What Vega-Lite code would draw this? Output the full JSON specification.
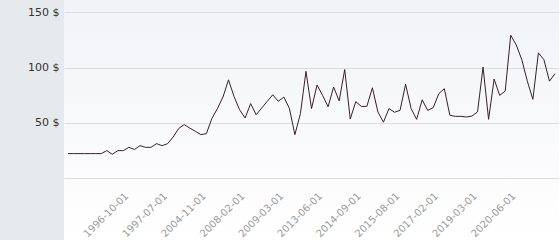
{
  "$schema": "https://vega.github.io/schema/vega-lite/v6.json",
  "width": 495,
  "height": 240,
  "padding": 0,
  "background": "#e7eaed",
  "config": {
    "view": {
      "stroke": null,
      "fill": {"gradient": "linear", "x1": 0, "y1": 0, "x2": 0, "y2": 1, "stops": [{"offset": 0, "color": "#f2f3f7"}, {"offset": 1, "color": "#ffffff"}]}
    },
    "font": "DejaVu Sans"
  },
  "data": {
    "values": [
      {"date": "1995-01-01", "price": 22.3},
      {"date": "1995-03-01", "price": 22.3},
      {"date": "1995-05-01", "price": 22.3},
      {"date": "1995-07-01", "price": 22.3},
      {"date": "1995-09-01", "price": 22.3},
      {"date": "1995-11-01", "price": 22.3},
      {"date": "1996-01-01", "price": 22.3},
      {"date": "1996-03-01", "price": 25},
      {"date": "1996-05-01", "price": 21.7},
      {"date": "1996-07-01", "price": 25},
      {"date": "1996-10-01", "price": 25},
      {"date": "1996-11-01", "price": 28},
      {"date": "1996-12-01", "price": 26},
      {"date": "1997-01-01", "price": 29.5},
      {"date": "1997-02-01", "price": 28},
      {"date": "1997-04-01", "price": 28},
      {"date": "1997-05-01", "price": 31.3},
      {"date": "1997-07-01", "price": 29.5},
      {"date": "1998-06-01", "price": 31.3},
      {"date": "1999-09-01", "price": 37.3},
      {"date": "2000-11-01", "price": 45},
      {"date": "2001-10-01", "price": 48.5},
      {"date": "2002-09-01", "price": 45.4},
      {"date": "2003-10-01", "price": 42.5},
      {"date": "2004-11-01", "price": 39.5},
      {"date": "2005-06-01", "price": 40.3},
      {"date": "2006-01-01", "price": 54},
      {"date": "2006-08-01", "price": 63},
      {"date": "2007-01-01", "price": 73.4},
      {"date": "2007-06-01", "price": 89},
      {"date": "2007-10-01", "price": 74},
      {"date": "2008-02-01", "price": 62},
      {"date": "2008-04-01", "price": 54.5},
      {"date": "2008-06-01", "price": 67.5},
      {"date": "2008-08-01", "price": 57.5},
      {"date": "2008-10-01", "price": 63.5},
      {"date": "2008-12-01", "price": 69.6},
      {"date": "2009-01-01", "price": 75.5},
      {"date": "2009-03-01", "price": 69.6},
      {"date": "2009-11-01", "price": 73.4},
      {"date": "2010-07-01", "price": 63.3},
      {"date": "2011-03-01", "price": 39.5},
      {"date": "2011-10-01", "price": 58.5},
      {"date": "2012-05-01", "price": 96.7},
      {"date": "2012-12-01", "price": 63},
      {"date": "2013-06-01", "price": 84.3},
      {"date": "2013-08-01", "price": 75},
      {"date": "2013-10-01", "price": 64.7},
      {"date": "2013-12-01", "price": 82.5},
      {"date": "2014-02-01", "price": 70},
      {"date": "2014-04-01", "price": 98.3},
      {"date": "2014-06-01", "price": 53.6},
      {"date": "2014-09-01", "price": 69.3},
      {"date": "2014-10-01", "price": 65},
      {"date": "2014-12-01", "price": 65},
      {"date": "2015-01-01", "price": 81.8},
      {"date": "2015-03-01", "price": 60},
      {"date": "2015-04-01", "price": 50.7},
      {"date": "2015-06-01", "price": 63},
      {"date": "2015-08-01", "price": 59.7},
      {"date": "2015-10-01", "price": 61.4},
      {"date": "2016-01-01", "price": 85},
      {"date": "2016-04-01", "price": 63},
      {"date": "2016-06-01", "price": 53.3},
      {"date": "2016-09-01", "price": 71},
      {"date": "2016-11-01", "price": 61.4},
      {"date": "2017-02-01", "price": 63.9},
      {"date": "2017-06-01", "price": 76.5},
      {"date": "2017-10-01", "price": 81},
      {"date": "2018-02-01", "price": 57},
      {"date": "2018-05-01", "price": 56},
      {"date": "2018-08-01", "price": 56},
      {"date": "2018-11-01", "price": 55.4},
      {"date": "2019-03-01", "price": 56.3},
      {"date": "2019-05-01", "price": 60},
      {"date": "2019-07-01", "price": 100.5},
      {"date": "2019-09-01", "price": 53.3},
      {"date": "2019-11-01", "price": 89.7},
      {"date": "2020-01-01", "price": 75},
      {"date": "2020-03-01", "price": 78.8},
      {"date": "2020-06-01", "price": 129.3},
      {"date": "2020-09-01", "price": 120.5},
      {"date": "2020-12-01", "price": 107.3},
      {"date": "2021-03-01", "price": 87.8},
      {"date": "2021-06-01", "price": 71.4},
      {"date": "2021-09-01", "price": 113.4},
      {"date": "2021-12-01", "price": 107.2},
      {"date": "2022-03-01", "price": 87.8},
      {"date": "2022-06-01", "price": 94.6}
    ]
  },
  "mark": {"type": "line", "color": "#36202d", "strokeWidth": 1, "interpolate": "linear"},
  "encoding": {
    "x": {
      "field": "date",
      "type": "ordinal",
      "sort": "ascending",
      "scale": {"type": "point", "padding": 0.723},
      "axis": {
        "title": null,
        "values": ["1996-10-01", "1997-07-01", "2004-11-01", "2008-02-01", "2009-03-01", "2013-06-01", "2014-09-01", "2015-08-01", "2017-02-01", "2019-03-01", "2020-06-01"],
        "offset": -62,
        "domain": false,
        "ticks": false,
        "tickSize": 0,
        "grid": false,
        "labelAngle": -45,
        "labelAlign": "right",
        "labelBaseline": "middle",
        "labelPadding": 16,
        "labelOffset": 3,
        "labelFontSize": 10,
        "labelColor": "#9a9a9a",
        "labelOverlap": false
      }
    },
    "y": {
      "field": "price",
      "type": "quantitative",
      "scale": {"domain": [-55.8, 161.2], "nice": false, "zero": false},
      "axis": {
        "title": null,
        "values": [0, 50, 100, 150],
        "labelExpr": "datum.value == 0 ? '' : datum.value + ' $'",
        "domain": false,
        "ticks": false,
        "tickSize": 0,
        "grid": true,
        "gridColor": "#dcdcdc",
        "gridWidth": 1,
        "labelPadding": 5,
        "labelFontSize": 11,
        "labelColor": "#333333",
        "minExtent": 64,
        "maxExtent": 64
      }
    }
  }
}
